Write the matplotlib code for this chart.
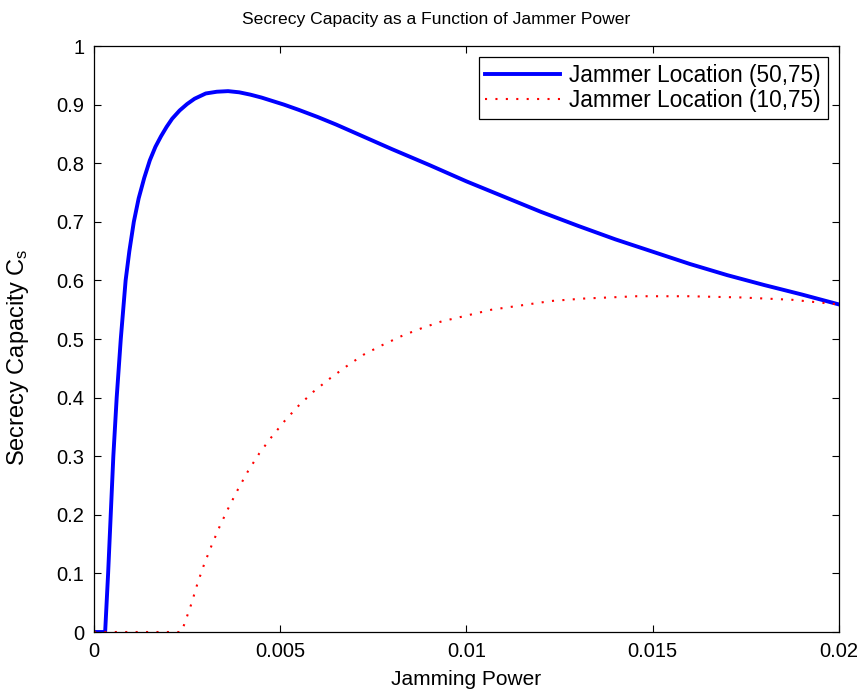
import numpy as np
import matplotlib
matplotlib.use("Agg")
import matplotlib.pyplot as plt
from matplotlib.ticker import FuncFormatter

# Jammer em (50,75)
x_a = [0, 0.0003, 0.00038, 0.00045, 0.00052, 0.00061, 0.00072, 0.00085, 0.00095,
       0.00107, 0.0012, 0.00135, 0.0015, 0.00165, 0.0018, 0.00195, 0.0021,
       0.0023, 0.0025, 0.0027, 0.003, 0.0033, 0.0036, 0.0039, 0.0042, 0.0045,
       0.0048, 0.0051, 0.0055, 0.006, 0.0065, 0.007, 0.0075, 0.008, 0.009, 0.010,
       0.011, 0.012, 0.013, 0.014, 0.015, 0.016, 0.017, 0.018, 0.019, 0.020]
y_a = [0, 0, 0.1, 0.2, 0.3, 0.4, 0.5, 0.6, 0.65,
       0.7, 0.74, 0.775, 0.805, 0.828, 0.846, 0.862, 0.876,
       0.89, 0.901, 0.91, 0.919, 0.922, 0.923, 0.921, 0.917, 0.912,
       0.906, 0.9, 0.891, 0.879, 0.866, 0.852, 0.838, 0.824, 0.797, 0.769,
       0.743, 0.717, 0.693, 0.670, 0.649, 0.628, 0.609, 0.592, 0.576, 0.559]

# Jammer em (10,75)
x_b = [0, 0.0005, 0.001, 0.0015, 0.002, 0.00235, 0.00244, 0.00262, 0.00278,
       0.00296, 0.00316, 0.00338, 0.00362, 0.00387, 0.00414, 0.00444, 0.00477,
       0.00513, 0.00549, 0.00589, 0.00632, 0.00677, 0.00723, 0.00772, 0.00829,
       0.00882, 0.00933, 0.00987, 0.01067, 0.01229, 0.01314, 0.01457, 0.01596,
       0.01734, 0.01873, 0.020]
y_b = [0, 0, 0, 0, 0, 0, 0.016, 0.049, 0.083,
       0.116, 0.148, 0.181, 0.213, 0.244, 0.275, 0.305, 0.333,
       0.361, 0.386, 0.410, 0.432, 0.453, 0.473, 0.489, 0.506,
       0.519, 0.530, 0.538, 0.550, 0.565, 0.569, 0.573, 0.573,
       0.571, 0.567, 0.559]

labels = ["Jammer Location (50,75)", "Jammer Location (10,75)"]

plt.rcParams['font.family'] = ['Liberation Sans', 'DejaVu Sans']

fig = plt.figure(figsize=(8.66, 6.93), dpi=100)
ax = fig.add_axes([0.1085, 0.088, 0.8603, 0.8456])

ax.plot(x_a, y_a, color='#0000ff', lw=2.8, solid_joinstyle='round', label=labels[0])
ax.plot(x_b, y_b, color='#ff0000', lw=1.5, linestyle=(0, (1, 4)), label=labels[1])

ax.set_xlim(0, 0.02)
ax.set_ylim(0, 1)
ax.set_xticks([0, 0.005, 0.01, 0.015, 0.02])
ax.set_yticks(np.arange(0, 1.01, 0.1))
ax.xaxis.set_major_formatter(FuncFormatter(lambda v, p: "%g" % round(v, 4)))
ax.yaxis.set_major_formatter(FuncFormatter(lambda v, p: "%g" % round(v, 2)))
ax.tick_params(direction='in', top=True, right=True, length=5, width=0.8,
               labelsize=14.5, pad=7)
for s in ax.spines.values():
    s.set_linewidth(0.9)

ax.set_title("Secrecy Capacity as a Function of Jammer Power", fontsize=12.6,
             pad=16, x=0.46)
ax.set_xlabel("Jamming Power", fontsize=15, labelpad=7)
ax.set_ylabel(r"Secrecy Capacity $\mathregular{C_s}$", fontsize=17)
ax.yaxis.set_label_coords(-0.084, 0.468)

leg = ax.legend(loc='upper right', fontsize=16.3, fancybox=False, framealpha=1,
                edgecolor='black', handlelength=3.3, handletextpad=0.4,
                borderaxespad=0.5, borderpad=0.3, labelspacing=0.08)
leg.get_frame().set_linewidth(0.9)

fig.savefig("out.png", dpi=100)
